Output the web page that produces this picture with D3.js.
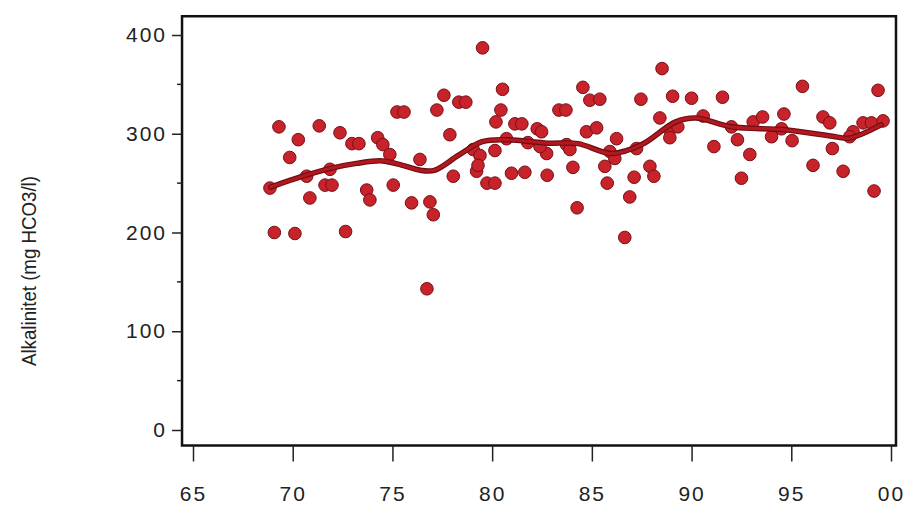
<!DOCTYPE html>
<html>
<head>
<meta charset="utf-8">
<script src="https://cdn.jsdelivr.net/npm/d3@7"></script>
<style>
  body { margin: 0; background: #fff; }
  svg { display: block; font-family: "Liberation Sans", Arial, sans-serif; }
</style>
</head>
<body>
<div id="chart"></div>
<script>
// measured alkalinity, year (19xx) and value
const years = [
  69.31, 71.33, 72.37, 70.28, 69.85, 72.97, 73.32, 75.23, 75.58, 74.26,
  74.52, 74.87, 68.86, 70.86, 71.62, 71.97, 71.87, 70.70, 73.71, 73.87,
  75.04, 75.96, 69.08, 70.11, 72.65, 76.38, 79.52, 80.52, 77.58, 78.33,
  78.68, 77.23, 80.44, 80.19, 83.35, 83.70, 81.14, 81.49, 82.26, 82.48,
  77.88, 84.55, 79.05, 79.39, 80.14, 80.72, 81.79, 82.73, 83.73, 83.90,
  84.05, 78.05, 79.22, 79.29, 79.74, 80.14, 80.97, 81.64, 82.76, 76.88,
  77.05, 84.26, 76.73, 82.40, 88.52, 84.90, 85.40, 87.46, 89.05, 90.00,
  91.55, 88.41, 90.58, 92.00, 84.73, 85.24, 86.24, 88.91, 88.91, 89.31,
  85.90, 86.15, 87.24, 85.65, 87.91, 88.11, 87.12, 85.77, 86.90, 86.65,
  92.50, 91.12, 95.56, 99.35, 93.09, 93.56, 94.63, 96.59, 96.93, 98.60,
  99.02, 99.60, 92.30, 94.01, 94.51, 95.04, 98.10, 97.93, 97.06, 92.92,
  96.09, 97.60, 99.15
];
const values = [
  307, 308, 301, 294, 276, 290, 290, 322, 322, 296,
  289, 279, 245, 235, 248, 248, 264, 257, 243, 233,
  248, 230, 200, 199, 201, 274, 387, 345, 339, 332,
  332, 324, 324, 312, 324, 324, 310, 310, 305, 302,
  299, 347, 284, 278, 283, 295, 291, 280, 289, 284,
  266, 257, 262, 268, 250, 250, 260, 261, 258, 231,
  218, 225, 143, 287, 366, 334, 335, 335, 338, 336,
  337, 316, 318, 307, 302, 306, 295, 304, 296, 307,
  282, 275, 285, 267, 267, 257, 256, 250, 236, 195,
  255, 287, 348, 344, 312, 317, 320, 317, 311, 311,
  311, 313, 294, 297, 305, 293, 302, 297, 285, 279,
  268, 262, 242
];

// smoothed trend
const trendYears = [68.9, 70.5, 71.9, 73.2, 74.5, 75.5, 76.4, 77.1, 78.3, 79.5, 80.6, 82.8, 84.3, 86.0, 87.5, 89.2, 90.2, 92.0, 94.7, 97.2, 97.9, 99.5];
const trendValues = [246, 257, 265, 270, 272.5, 268, 263, 263, 278, 292, 294, 290.5, 290, 280, 289, 312, 316, 307, 304, 297, 295.5, 309];

const xTicks = [65, 70, 75, 80, 85, 90, 95, 100];
const yTicks = [0, 100, 200, 300, 400];
const yMinor = [50, 150, 250, 350];

const width = 907;
const height = 508;

const svg = d3.select('#chart')
  .append('svg')
  .attr('width', width)
  .attr('height', height);

const x = d3.scaleLinear()
  .domain([65, 100])
  .range([193, 891]);

const y = d3.scaleLinear()
  .domain([0, 400])
  .range([430, 35]);

const frameL = x(64.45), frameR = x(100.25);
const frameT = y(419), frameB = y(-15.7);

// frame
svg.append('rect')
  .attr('x', frameL)
  .attr('y', frameT)
  .attr('width', frameR - frameL)
  .attr('height', frameB - frameT)
  .attr('fill', 'none')
  .attr('stroke', '#111')
  .attr('stroke-width', 2.5);

// y axis
const yAxis = svg.append('g')
  .attr('transform', `translate(${frameL},0)`)
  .call(d3.axisLeft(y).tickValues(yTicks).tickSize(10).tickPadding(5).tickFormat(d3.format('d')));
yAxis.select('.domain').remove();
yAxis.selectAll('.tick line').attr('stroke', '#222').attr('stroke-width', 1.5);
yAxis.selectAll('text').attr('font-size', 21).attr('fill', '#222').attr('letter-spacing', 2);

svg.append('g')
  .selectAll('line')
  .data(yMinor)
  .join('line')
  .attr('x1', frameL - 5)
  .attr('x2', frameL)
  .attr('y1', d => y(d))
  .attr('y2', d => y(d))
  .attr('stroke', '#222')
  .attr('stroke-width', 1.5);

// x axis
const xAxis = svg.append('g')
  .attr('transform', `translate(0,${frameB})`)
  .call(d3.axisBottom(x).tickValues(xTicks).tickSize(16).tickPadding(25)
    .tickFormat(d => d3.format('02d')(d % 100)));
xAxis.select('.domain').remove();
xAxis.selectAll('.tick line').attr('stroke', '#222').attr('stroke-width', 1.5);
xAxis.selectAll('text').attr('font-size', 21).attr('fill', '#222').attr('letter-spacing', 2);

// y title
svg.append('text')
  .attr('transform', `translate(36,271) rotate(-90)`)
  .attr('text-anchor', 'middle')
  .attr('font-size', 20)
  .attr('fill', '#222')
  .attr('textLength', 190)
  .attr('lengthAdjust', 'spacingAndGlyphs')
  .text('Alkalinitet (mg HCO3/l)');

// points
const points = years.map((d, i) => ({ year: d, value: values[i] }));

svg.append('g')
  .selectAll('circle')
  .data(points)
  .join('circle')
  .attr('cx', d => x(d.year))
  .attr('cy', d => y(d.value))
  .attr('r', 6.3)
  .attr('fill', '#c8222b')
  .attr('stroke', '#761016')
  .attr('stroke-width', 1);

// trend line
const trend = trendYears.map((d, i) => [d, trendValues[i]]);
const line = d3.line()
  .x(d => x(d[0]))
  .y(d => y(d[1]))
  .curve(d3.curveCatmullRom);

svg.append('path')
  .datum(trend)
  .attr('d', line)
  .attr('fill', 'none')
  .attr('stroke', '#6e0d12')
  .attr('stroke-width', 5.5)
  .attr('stroke-linecap', 'round');
svg.append('path')
  .datum(trend)
  .attr('d', line)
  .attr('fill', 'none')
  .attr('stroke', '#b3171f')
  .attr('stroke-width', 3.2)
  .attr('stroke-linecap', 'round');
</script>
</body>
</html>
